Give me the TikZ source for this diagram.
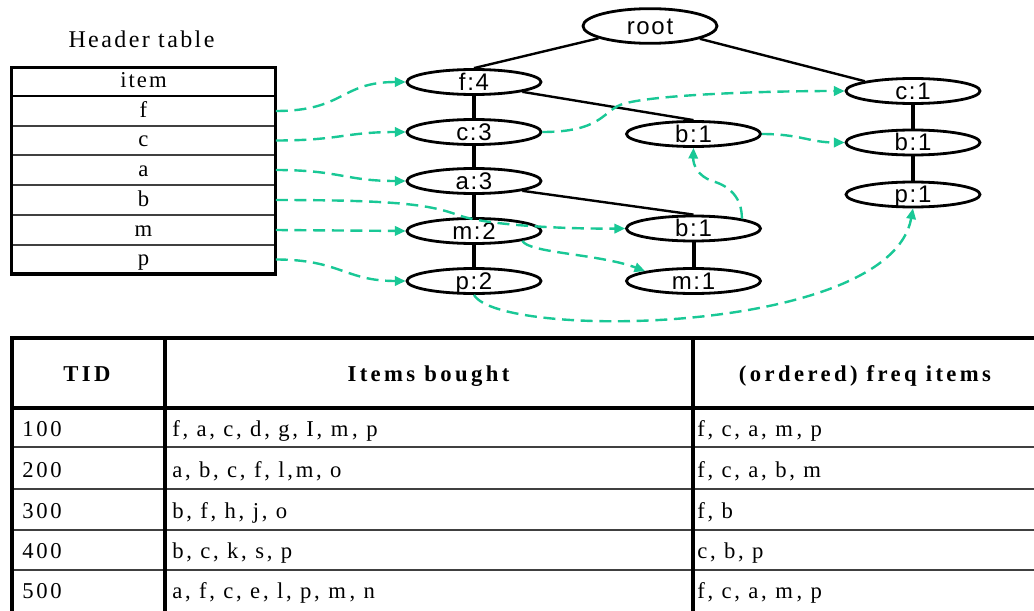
\documentclass[tikz,border=0pt]{standalone}
\usepackage{fontspec}
\setmainfont{Liberation Serif}
\newfontfamily\treefont[LetterSpace=7]{Liberation Sans}
\newfontfamily\bodyfont[LetterSpace=12]{Liberation Serif}
\newfontfamily\boldhead[LetterSpace=15]{Liberation Serif}
\newfontfamily\titlefont[LetterSpace=10]{Liberation Serif}
\newfontfamily\cellfont[LetterSpace=9]{Liberation Serif}
\usetikzlibrary{shapes.geometric,arrows.meta}
\definecolor{linkgreen}{RGB}{25,200,150}
\begin{document}
\begin{tikzpicture}[x=0.75pt,y=-0.75pt,
  tnode/.style={ellipse,draw,line width=2.1pt,minimum width=100.5pt,minimum height=18.75pt,
    inner sep=0pt,text height=12.6pt,text depth=0pt,font=\treefont\fontsize{18}{18}\selectfont},
  rootnode/.style={tnode,minimum height=26pt},
  branch/.style={line width=1.8pt},
  trunk/.style={line width=3pt},
  link/.style={draw=linkgreen,line width=1.8pt,dash pattern=on 9pt off 5pt,
    -{Triangle[length=8pt,width=7pt]}},
  hcell/.style={minimum width=198pt,minimum height=22pt,inner sep=0pt,
    text height=11pt,text depth=2pt,font=\cellfont\fontsize{17}{17}\selectfont},
  hdr/.style={anchor=base,inner sep=0pt,font=\boldhead\bfseries\fontsize{17}{17}\selectfont},
  cell/.style={anchor=base west,inner sep=0pt,font=\bodyfont\fontsize{17}{17}\selectfont},
  thinrule/.style={line width=0.9pt,black!75},
  thickrule/.style={line width=2.8pt}
]
\fill[white] (0,0) rectangle (1034,610);
\useasboundingbox (0,0) rectangle (1034,610);

% ---------- header table ----------
\node[anchor=base,inner sep=0pt,font=\titlefont\fontsize{18}{18}\selectfont] (title) at (141.5,48) {Header table};
\node[hcell] (hitem) at (143.5,81) {item};
\node[hcell] (hf) at (143.5,111) {f};
\node[hcell] (hc) at (143.5,140.5) {c};
\node[hcell] (ha) at (143.5,170) {a};
\node[hcell] (hb) at (143.5,200) {b};
\node[hcell] (hm) at (143.5,230) {m};
\node[hcell] (hp) at (143.5,259.5) {p};
\foreach \yy in {126,155,185,215,245} \draw[thinrule] (11.5,\yy) -- (275.5,\yy);
\draw[line width=2.2pt] (11.5,96) -- (275.5,96);
\draw[line width=2.5pt] (11.5,67.5) rectangle (275.5,274);

% ---------- FP tree ----------
\node[rootnode] (root) at (650,26) {root};
\node[tnode] (f4) at (474,82) {f:4};
\node[tnode] (c3) at (474,132) {c:3};
\node[tnode] (a3) at (474,181) {a:3};
\node[tnode] (m2) at (474,231) {m:2};
\node[tnode] (p2) at (474,281) {p:2};
\node[tnode] (b1a) at (693.5,134) {b:1};
\node[tnode] (b1b) at (693.5,228.5) {b:1};
\node[tnode] (m1) at (693.5,281) {m:1};
\node[tnode] (c1) at (913,91) {c:1};
\node[tnode] (b1c) at (913,142.5) {b:1};
\node[tnode] (p1) at (913,194.5) {p:1};

\draw[branch] (root) -- (f4.north);
\draw[branch] (root) -- (c1.north west);
\draw[branch] (f4.south east) -- (b1a.north);
\draw[branch] (a3.south east) -- (b1b.north);
\draw[trunk] (f4) -- (c3);
\draw[trunk] (c3) -- (a3);
\draw[trunk] (a3) -- (m2);
\draw[trunk] (m2) -- (p2);
\draw[trunk] (c1) -- (b1c);
\draw[trunk] (b1c) -- (p1);
\draw[trunk] (b1b) -- (m1);

% ---------- node links ----------
\draw[link] (hf.east) .. controls (345,111) and (340,82) .. (f4.west);
\draw[link] (hc.east) .. controls (340,140.5) and (345,132) .. (c3.west);
\draw[link] (ha.east) .. controls (340,170) and (345,181) .. (a3.west);
\draw[link] (hb.east) .. controls (400,200) and (430,205) .. (458,215) .. controls (485,225) and (560,229) .. (b1b.west);
\draw[link] (hm.east) -- (m2.west);
\draw[link] (hp.east) .. controls (340,259.5) and (345,281) .. (p2.west);
\draw[link] (m2.south east) .. controls (528,253) and (600,254) .. (m1.north west);
\draw[link] (p2.south) .. controls (500,340) and (890,335) .. (p1.south);
\draw[link] (c3.east) .. controls (600,132) and (603,112) .. (620,105) .. controls (645,95) and (760,91) .. (c1.west);
\draw[link] (b1a.east) .. controls (800,134) and (810,142.5) .. (b1c.west);
\draw[link] (b1b.north east) .. controls (742,198) and (730,186) .. (712,181) .. controls (698,176) and (693,165) .. (b1a.south);

% ---------- transaction table ----------
\node[hdr] (tid) at (87,381) {TID};
\node[hdr] (items) at (428.5,381) {Items bought};
\node[hdr] (freq) at (865,381) {(ordered) freq items};

\node[cell] (r1t) at (22,436) {100};
\node[cell] (r1i) at (172,436) {f, a, c, d, g, I, m\,, p};
\node[cell] (r1f) at (697,436) {f, c, a, m\,, p};
\node[cell] (r2t) at (22,477) {200};
\node[cell] (r2i) at (172,477) {a, b, c, f, l,m, o};
\node[cell] (r2f) at (697,477) {f, c, a, b, m};
\node[cell] (r3t) at (22,518) {300};
\node[cell] (r3i) at (172,518) {b, f, h, j, o};
\node[cell] (r3f) at (697,518) {f, b};
\node[cell] (r4t) at (22,558) {400};
\node[cell] (r4i) at (172,558) {b, c, k, s, p};
\node[cell] (r4f) at (697,558) {c, b, p};
\node[cell] (r5t) at (22,598) {500};
\node[cell] (r5i) at (172,598) {a, f, c, e, l, p, m\,, n};
\node[cell] (r5f) at (697,598) {f, c, a, m\,, p};

\foreach \yy in {447,489,530,570} \draw[thinrule] (12,\yy) -- (1040,\yy);
\draw[thickrule] (10,338) -- (1040,338);
\draw[thickrule] (10,408) -- (1040,408);
\draw[line width=3.5pt] (12,336.7) -- (12,615);
\draw[thickrule] (165,338) -- (165,615);
\draw[thickrule] (693,338) -- (693,615);
\end{tikzpicture}
\end{document}
